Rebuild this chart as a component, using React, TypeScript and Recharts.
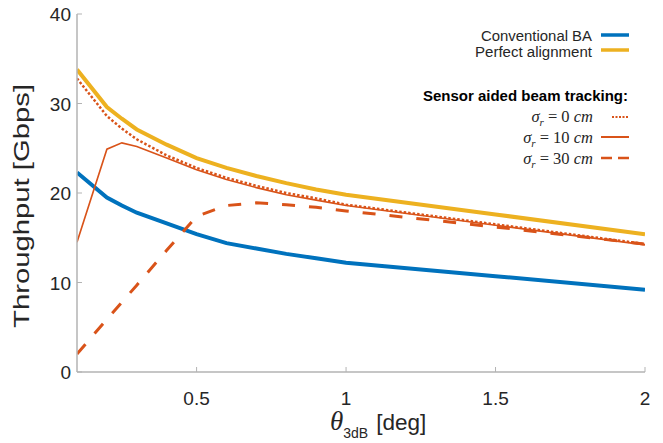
import React from 'react';
import { LineChart, Line, XAxis, YAxis, Legend } from 'recharts';

const theta = [0.1, 0.2, 0.25, 0.3, 0.4, 0.5, 0.6, 0.7, 0.8, 0.9, 1.0, 1.5, 2.0];
const conventionalBA = [22.3, 19.5, 18.6, 17.8, 16.6, 15.4, 14.4, 13.8, 13.2, 12.7, 12.2, 10.7, 9.2];
const perfectAlignment = [33.8, 29.6, 28.3, 27.1, 25.4, 23.9, 22.8, 21.9, 21.1, 20.4, 19.8, 17.6, 15.4];
const sigma0 = [32.8, 28.6, 27.2, 26.0, 24.2, 22.8, 21.7, 20.8, 20.0, 19.4, 18.7, 16.5, 14.3];
const sigma10 = [14.5, 24.9, 25.6, 25.2, 23.9, 22.6, 21.5, 20.6, 19.8, 19.2, 18.6, 16.4, 14.2];
const sigma30 = [2.0, 5.9, 7.8, 9.7, 13.6, 17.4, 18.6, 18.9, 18.7, 18.4, 18.0, 16.2, 14.3];

const xTicks = [0.5, 1, 1.5, 2];
const yTicks = [0, 10, 20, 30, 40];

const BLUE = '#0072BD';
const YELLOW = '#EDB120';
const ORANGE = '#D95319';
const AXIS = '#b3b3b3';
const TEXT = '#262626';
const SANS = '"Liberation Sans", Arial, Helvetica, sans-serif';
const SERIF = '"Liberation Serif", "Times New Roman", serif';

const data = theta.map((t, i) => ({
  theta: t,
  conv: conventionalBA[i],
  perfect: perfectAlignment[i],
  s0: sigma0[i],
  s10: sigma10[i],
  s30: sigma30[i],
}));

const BottomTick = (props: any) => {
  const { x, y, payload } = props;
  return (
    <g>
      <line x1={x} x2={x} y1={y} y2={y - 5} stroke={AXIS} strokeWidth={1} />
      <text x={x} y={y + 33} textAnchor="middle" fontSize={19} fontFamily={SANS} fill={TEXT}>
        {payload.value}
      </text>
    </g>
  );
};

const TopTick = (props: any) => {
  const { x, y } = props;
  return <line x1={x} x2={x} y1={y} y2={y + 5} stroke={AXIS} strokeWidth={1} />;
};

const LeftTick = (props: any) => {
  const { x, y, payload } = props;
  return (
    <g>
      <line x1={x} x2={x + 5} y1={y} y2={y} stroke={AXIS} strokeWidth={1} />
      <text x={x - 6} y={y + 7} textAnchor="end" fontSize={19} fontFamily={SANS} fill={TEXT}>
        {payload.value}
      </text>
    </g>
  );
};

const RightTick = (props: any) => {
  const { x, y } = props;
  return <line x1={x} x2={x - 5} y1={y} y2={y} stroke={AXIS} strokeWidth={1} />;
};

const XLabel = (props: any) => {
  const vb = props.viewBox || { x: 77, y: 372, width: 568, height: 71 };
  const cx = vb.x + vb.width / 2;
  const base = vb.y + 58;
  return (
    <text x={cx - 31} y={base} fill={TEXT}>
      <tspan fontFamily={SERIF} fontStyle="italic" fontSize={27}>θ</tspan>
      <tspan fontFamily={SANS} fontSize={14} dy={8}>3dB</tspan>
      <tspan fontFamily={SANS} fontSize={22.5} dy={-8} dx={8}>[deg]</tspan>
    </text>
  );
};

const YLabel = () => {
  return (
    <text
      x={0}
      y={0}
      transform="translate(29, 206) rotate(-90)"
      textAnchor="middle"
      fontFamily={SANS}
      fontSize={22}
      fill={TEXT}
      textLength={244}
      lengthAdjust="spacingAndGlyphs"
    >
      {'Throughput  [Gbps]'}
    </text>
  );
};

const MathLabel = ({ x, y, value }: { x: number; y: number; value: string }) => (
  <text x={x} y={y} textAnchor="end" fontFamily={SERIF} fontSize={16.5} fill={TEXT}>
    <tspan fontStyle="italic">σ</tspan>
    <tspan fontStyle="italic" fontSize={11} dy={4}>r</tspan>
    <tspan dy={-4}>{` = ${value} `}</tspan>
    <tspan fontStyle="italic">cm</tspan>
  </text>
);

const LegendContent = () => (
  <svg width={663} height={443} style={{ position: 'absolute', left: 0, top: 0, overflow: 'visible' }}>
    <text x={592} y={40.5} textAnchor="end" fontFamily={SANS} fontSize={14} fill={TEXT} textLength={111} lengthAdjust="spacingAndGlyphs">Conventional BA</text>
    <line x1={601} x2={629} y1={35} y2={35} stroke={BLUE} strokeWidth={3.5} />
    <text x={592} y={56.5} textAnchor="end" fontFamily={SANS} fontSize={14} fill={TEXT} textLength={117} lengthAdjust="spacingAndGlyphs">Perfect alignment</text>
    <line x1={601} x2={629} y1={50} y2={50} stroke={YELLOW} strokeWidth={3.5} />
    <text x={628} y={101} textAnchor="end" fontFamily={SANS} fontSize={15} fontWeight="bold" fill="#000">
      Sensor aided beam tracking:
    </text>
    <MathLabel x={593} y={122} value="0" />
    <line x1={612} x2={629} y1={117} y2={117} stroke={ORANGE} strokeWidth={2} strokeDasharray="2 1.5" />
    <MathLabel x={593} y={143} value="10" />
    <line x1={601} x2={629} y1={137} y2={137} stroke={ORANGE} strokeWidth={2} />
    <MathLabel x={593} y={164} value="30" />
    <line x1={601} x2={629} y1={158} y2={158} stroke={ORANGE} strokeWidth={2.5} strokeDasharray="11 6" />
  </svg>
);

export default function App() {
  return (
    <div style={{ position: 'absolute', left: 0, top: 0, width: 663, height: 443, background: '#fff' }}>
      <LineChart width={663} height={443} data={data} margin={{ top: 14, right: 18, bottom: 0, left: 0 }}>
        <XAxis
          dataKey="theta"
          type="number"
          domain={[0.1, 2]}
          ticks={xTicks}
          allowDataOverflow
          height={71}
          tickSize={0}
          tickMargin={0}
          tickLine={false}
          tick={<BottomTick />}
          axisLine={{ stroke: AXIS, strokeWidth: 1.5 }}
          interval={0}
          label={<XLabel />}
        />
        <XAxis
          xAxisId="top"
          orientation="top"
          type="number"
          domain={[0.1, 2]}
          ticks={xTicks}
          allowDataOverflow
          height={0}
          tickSize={0}
          tickMargin={0}
          tickLine={false}
          tick={<TopTick />}
          axisLine={{ stroke: AXIS, strokeWidth: 1.5 }}
          interval={0}
        />
        <YAxis
          type="number"
          domain={[0, 40]}
          ticks={yTicks}
          allowDataOverflow
          width={77}
          tickSize={0}
          tickMargin={0}
          tickLine={false}
          tick={<LeftTick />}
          axisLine={{ stroke: AXIS, strokeWidth: 1.5 }}
          interval={0}
          label={<YLabel />}
        />
        <YAxis
          yAxisId="right"
          orientation="right"
          type="number"
          domain={[0, 40]}
          ticks={yTicks}
          allowDataOverflow
          width={0}
          tickSize={0}
          tickMargin={0}
          tickLine={false}
          tick={<RightTick />}
          axisLine={{ stroke: AXIS, strokeWidth: 1.5 }}
          interval={0}
        />
        <Legend
          layout="horizontal"
          verticalAlign="middle"
          align="center"
          content={<LegendContent />}
          wrapperStyle={{ left: 0, top: 0, width: 663, height: 443, pointerEvents: 'none' }}
        />
        <Line dataKey="conv" name="Conventional BA" stroke={BLUE} strokeWidth={4} dot={false} isAnimationActive={false} />
        <Line dataKey="perfect" name="Perfect alignment" stroke={YELLOW} strokeWidth={4} dot={false} isAnimationActive={false} />
        <Line dataKey="s0" name="σr = 0 cm" stroke={ORANGE} strokeWidth={2.5} strokeDasharray="2.5 2" dot={false} isAnimationActive={false} />
        <Line dataKey="s10" name="σr = 10 cm" stroke={ORANGE} strokeWidth={1.6} dot={false} isAnimationActive={false} />
        <Line dataKey="s30" name="σr = 30 cm" stroke={ORANGE} strokeWidth={3} strokeDasharray="13 14" dot={false} isAnimationActive={false} />
      </LineChart>
    </div>
  );
}
